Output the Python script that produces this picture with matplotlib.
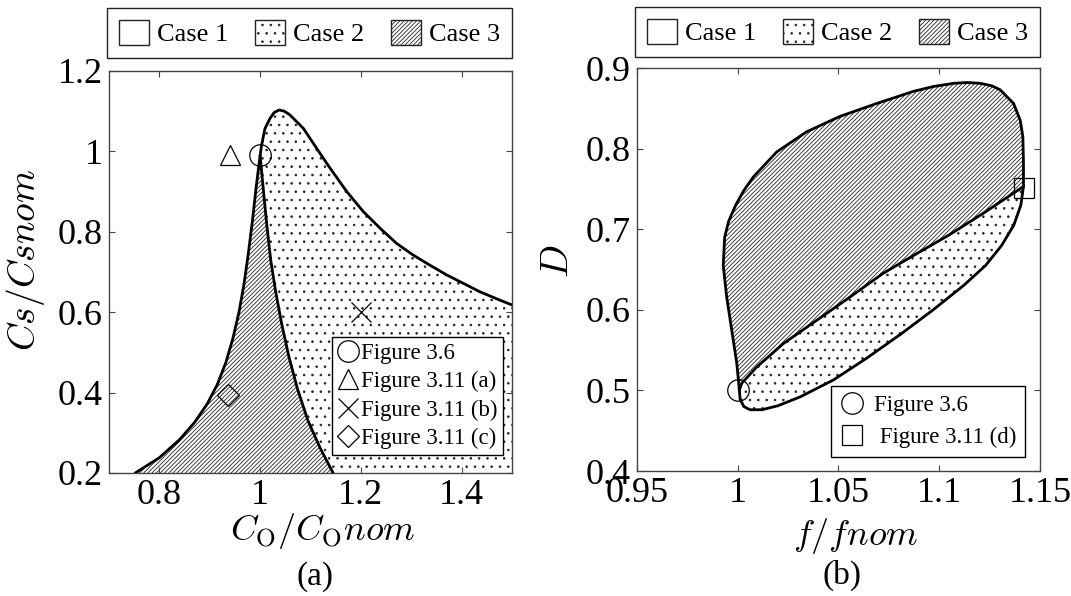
import matplotlib
matplotlib.use("Agg")
import matplotlib.pyplot as plt
from matplotlib.lines import Line2D
from matplotlib.patches import Patch

plt.rcParams["font.family"] = "serif"
plt.rcParams["font.serif"] = ["Liberation Serif", "DejaVu Serif"]
plt.rcParams["mathtext.fontset"] = "cm"
plt.rcParams["hatch.linewidth"] = 0.6

# --------------------------------------------------------------------------- #
# panel (a): Cs/Csnom vs Co/Conom
# --------------------------------------------------------------------------- #
# outer boundary, from the cusp over the peak to the right edge
a_outer_x = [1.000, 1.003, 1.0097, 1.0196, 1.028, 1.038, 1.048, 1.059, 1.086, 1.112,
             1.139, 1.172, 1.205, 1.238, 1.271, 1.304, 1.337, 1.370, 1.403, 1.436,
             1.476, 1.500]
a_outer_y = [0.990, 1.016, 1.057, 1.082, 1.097, 1.103, 1.100, 1.091, 1.057, 1.008,
             0.958, 0.900, 0.850, 0.809, 0.771, 0.742, 0.717, 0.693, 0.672, 0.651,
             0.630, 0.618]
# left edge of the case-3 wedge, bottom -> cusp
a_left_x = [0.752, 0.800, 0.840, 0.870, 0.895, 0.915, 0.932, 0.946, 0.958, 0.968,
            0.977, 0.985, 0.992, 1.000]
a_left_y = [0.200, 0.238, 0.283, 0.326, 0.372, 0.420, 0.475, 0.535, 0.600, 0.670,
            0.750, 0.830, 0.910, 0.990]
# right edge of the case-3 wedge, cusp -> bottom
a_right_x = [1.000, 1.006, 1.013, 1.021, 1.031, 1.043, 1.057, 1.074, 1.095, 1.120, 1.145]
a_right_y = [0.990, 0.910, 0.820, 0.730, 0.650, 0.570, 0.490, 0.410, 0.330, 0.260, 0.200]

a_points = [  # (x, y, marker, size, label)
    (1.000, 0.990, "o", 15.5, "Figure 3.6"),
    (0.940, 0.990, "^", 15.0, "Figure 3.11 (a)"),
    (1.200, 0.600, "x", 14.5, "Figure 3.11 (b)"),
    (0.936, 0.394, "D", 11.0, "Figure 3.11 (c)"),
]

# --------------------------------------------------------------------------- #
# panel (b): D vs f/fnom
# --------------------------------------------------------------------------- #
# upper boundary, from the nominal point round the top to the right corner
b_upper_x = [1.0008, 0.9995, 0.9970, 0.9945, 0.9928, 0.9935, 0.9955, 0.9990, 1.0030,
             1.0078, 1.0194, 1.0343, 1.0508, 1.0690, 1.0872, 1.0970, 1.1071, 1.1140,
             1.1203, 1.1260, 1.1302, 1.1369, 1.1402, 1.1415, 1.1418, 1.1418]
b_upper_y = [0.500, 0.534, 0.575, 0.616, 0.655, 0.690, 0.710, 0.730, 0.748,
             0.765, 0.796, 0.821, 0.840, 0.856, 0.871, 0.877, 0.881, 0.882,
             0.881, 0.878, 0.873, 0.856, 0.835, 0.815, 0.782, 0.753]
# lower boundary, right corner back to the nominal point
b_lower_x = [1.1418, 1.1405, 1.1370, 1.1310, 1.1230, 1.1120, 1.0970, 1.0810, 1.0640,
             1.0475, 1.0310, 1.0200, 1.0120, 1.0061, 1.0030, 1.0012, 1.0008]
b_lower_y = [0.753, 0.730, 0.705, 0.680, 0.655, 0.630, 0.600, 0.570, 0.540,
             0.513, 0.492, 0.481, 0.476, 0.476, 0.480, 0.489, 0.500]
# border between case 3 (above) and case 2 (below)
b_inner_x = [1.0008, 1.0020, 1.0094, 1.0226, 1.0392, 1.0558, 1.0720, 1.0890, 1.1050,
             1.1220, 1.1418]
b_inner_y = [0.500, 0.509, 0.529, 0.558, 0.587, 0.616, 0.645, 0.670, 0.693,
             0.720, 0.753]

b_points = [
    (1.000, 0.500, "o", 15.5, "Figure 3.6"),
    (1.142, 0.751, "s", 14.5, " Figure 3.11 (d)"),
]

CASES = ["Case 1", "Case 2", "Case 3"]
INK = "#222222"
DOTS = ".."
LINES = "////////"


def region(ax, xs, ys, hatch):
    ax.fill(xs, ys, facecolor="white", edgecolor=INK, lw=0, hatch=hatch, zorder=1)


def boundary(ax, xs, ys):
    ax.plot(xs, ys, color="black", lw=2.0, solid_joinstyle="round",
            solid_capstyle="round", zorder=3)


def frame(ax, xlim, ylim, xticks, yticks):
    ax.set_xlim(*xlim)
    ax.set_ylim(*ylim)
    ax.set_xticks(xticks)
    ax.set_yticks(yticks)
    ax.set_xticklabels([f"{v:g}" for v in xticks])
    ax.set_yticklabels([f"{v:g}" for v in yticks])
    ax.tick_params(direction="in", top=True, right=True, length=4, width=0.8,
                   color="#444444", labelsize=26, pad=4.5)
    for s in ax.spines.values():
        s.set_color("#444444")
        s.set_linewidth(1.0)


def case_legend(ax, y0):
    handles = [
        Patch(facecolor="white", edgecolor=INK, lw=1.0),
        Patch(facecolor="white", edgecolor=INK, lw=1.0, hatch=DOTS),
        Patch(facecolor="white", edgecolor=INK, lw=1.0, hatch=LINES),
    ]
    leg = ax.legend(handles, CASES, loc="lower left", bbox_to_anchor=(-0.005, y0, 1.005, 0.1),
                    mode="expand", ncol=3, borderaxespad=0, fontsize=19, frameon=True,
                    fancybox=False, edgecolor=INK, framealpha=1, borderpad=0.45,
                    handlelength=1.15, handleheight=1.1, handletextpad=0.3)
    leg.get_frame().set_linewidth(1.0)
    return leg


def point_legend(ax, pts, anchor, handlelength, textpad, spacing, pad):
    handles = [Line2D([], [], ls="none", marker=m, ms=s, mfc="none", mec="black", mew=0.9)
               for _, _, m, s, _ in pts]
    labels = [p[4] for p in pts]
    leg = ax.legend(handles, labels, loc="lower right", bbox_to_anchor=anchor,
                    borderaxespad=0, fontsize=16.5, frameon=True, fancybox=False,
                    edgecolor="black", framealpha=1, borderpad=pad, labelspacing=spacing,
                    handlelength=handlelength, handletextpad=textpad)
    leg.get_frame().set_linewidth(1.0)
    return leg


fig = plt.figure(figsize=(10.71, 5.96), dpi=100)
ax_a = fig.add_axes([0.10177, 0.20638, 0.37628, 0.67450])
ax_b = fig.add_axes([0.59477, 0.20973, 0.37628, 0.67617])

# ---- (a)
xa, ya = (0.7, 1.5), (0.2, 1.2)
region(ax_a, a_right_x + [xa[1]] + a_outer_x[::-1], a_right_y + [ya[0]] + a_outer_y[::-1], DOTS)
region(ax_a, a_left_x + a_right_x[1:], a_left_y + a_right_y[1:], LINES)
boundary(ax_a, a_outer_x, a_outer_y)
boundary(ax_a, a_left_x, a_left_y)
boundary(ax_a, a_right_x, a_right_y)
for x, y, m, s, _ in a_points:
    ax_a.plot(x, y, ls="none", marker=m, ms=s, mfc="none", mec="black", mew=0.9, zorder=4)
frame(ax_a, xa, ya, [0.8, 1.0, 1.2, 1.4], [0.2, 0.4, 0.6, 0.8, 1.0, 1.2])
ax_a.set_xlabel(r"$C_\mathrm{O}/C_\mathrm{O}nom$", fontsize=26)
ax_a.xaxis.set_label_coords(0.53, -0.094)
ax_a.set_ylabel(r"$Cs/Csnom$", fontsize=27)
ax_a.yaxis.set_label_coords(-0.154, 0.53)
leg = point_legend(ax_a, a_points, (0.978, 0.045), 0.9, 0.1, 0.32, 0.25)
ax_a.add_artist(leg)
case_legend(ax_a, 1.032)

# ---- (b)
xb, yb = (0.95, 1.15), (0.4, 0.9)
region(ax_b, b_upper_x + b_inner_x[::-1], b_upper_y + b_inner_y[::-1], LINES)
region(ax_b, b_inner_x + b_lower_x, b_inner_y + b_lower_y, DOTS)
boundary(ax_b, b_upper_x, b_upper_y)
boundary(ax_b, b_lower_x, b_lower_y)
boundary(ax_b, b_inner_x, b_inner_y)
for x, y, m, s, _ in b_points:
    ax_b.plot(x, y, ls="none", marker=m, ms=s, mfc="none", mec="black", mew=0.9,
              zorder=4, clip_on=False)
frame(ax_b, xb, yb, [0.95, 1.0, 1.05, 1.1, 1.15], [0.4, 0.5, 0.6, 0.7, 0.8, 0.9])
ax_b.set_xlabel(r"$f/fnom$", fontsize=26)
ax_b.xaxis.set_label_coords(0.543, -0.112)
ax_b.set_ylabel(r"$D$", fontsize=28)
ax_b.yaxis.set_label_coords(-0.149, 0.52)
leg = point_legend(ax_b, b_points, (0.963, 0.035), 1.0, 0.45, 0.45, 0.4)
ax_b.add_artist(leg)
case_legend(ax_b, 1.027)

fig.text(315 / 1071, 1 - 577 / 596, "(a)", ha="center", va="center", fontsize=24)
fig.text(842 / 1071, 1 - 575 / 596, "(b)", ha="center", va="center", fontsize=24)

fig.savefig("out.png", dpi=100, facecolor="white")
